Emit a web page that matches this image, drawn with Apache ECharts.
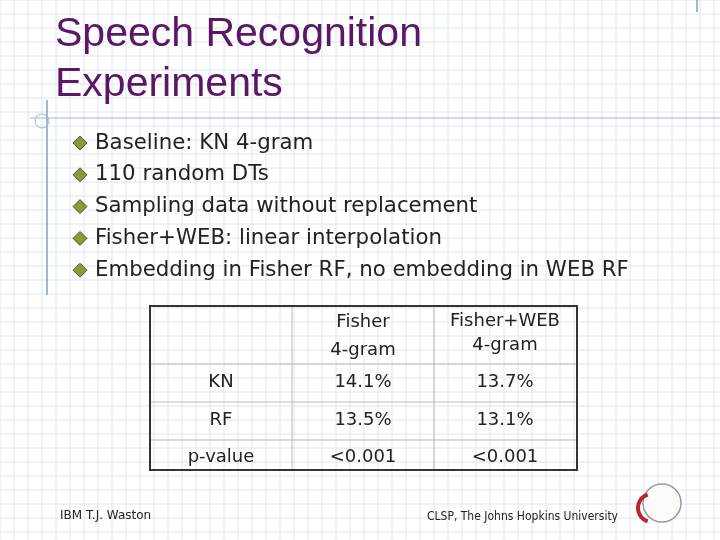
<!DOCTYPE html>
<html><head><meta charset="utf-8">
<script src="https://cdn.jsdelivr.net/npm/echarts@6/dist/echarts.min.js"></script>
<style>html,body{margin:0;padding:0;background:#fff}#main{width:720px;height:540px}</style>
</head><body><div id="main"></div>
<script>
var titleLines = ['Speech Recognition', 'Experiments'];
var bullets = ['Baseline: KN 4-gram', '110 random DTs', 'Sampling data without replacement',
    'Fisher+WEB: linear interpolation', 'Embedding in Fisher RF, no embedding in WEB RF'];
var columns = ['Fisher\n4-gram', 'Fisher+WEB\n4-gram'];
var rowNames = ['KN', 'RF', 'p-value'];
var fisherVals = ['14.1%', '13.5%', '<0.001'];
var webVals = ['13.7%', '13.1%', '<0.001'];
var footerLeft = 'IBM T.J. Waston';
var footerRight = 'CLSP, The Johns Hopkins University';

var els = [];
// graph paper background
for (var x = 0; x <= 720; x += 14) {
    els.push({type: 'line', shape: {x1: x, y1: 0, x2: x, y2: 540}, style: {stroke: '#dbe6f3', lineWidth: 1}, silent: true});
}
for (var y = 0; y <= 540; y += 14) {
    els.push({type: 'line', shape: {x1: 0, y1: y, x2: 720, y2: y}, style: {stroke: '#dbe6f3', lineWidth: 1}, silent: true});
}
// frame lines
els.push({type: 'line', shape: {x1: 47, y1: 100, x2: 47, y2: 295}, style: {stroke: '#9fb6d6', lineWidth: 2}});
els.push({type: 'line', shape: {x1: 30, y1: 118, x2: 720, y2: 118}, style: {stroke: '#9fb6d6', lineWidth: 1}});
els.push({type: 'circle', shape: {cx: 42, cy: 121, r: 7}, style: {fill: 'none', stroke: '#9fb6d6', lineWidth: 1}});
els.push({type: 'line', shape: {x1: 697, y1: 0, x2: 697, y2: 12}, style: {stroke: '#9fb6d6', lineWidth: 2}});

titleLines.forEach(function (t, i) {
    els.push({type: 'text', x: 55, y: 14 + i * 50, style: {text: t, font: '41px "Liberation Sans", sans-serif', fill: '#5b1666'}});
});

bullets.forEach(function (b, i) {
    var yy = 143 + i * 31.8;
    els.push({type: 'polygon', shape: {points: [[80, yy - 7], [87, yy], [80, yy + 7], [73, yy]]},
        style: {fill: '#8a9a3a', stroke: '#4a5a2a', lineWidth: 1}});
    els.push({type: 'text', x: 95, y: yy, style: {text: b, font: '21.3px "DejaVu Sans", sans-serif', fill: '#222', verticalAlign: 'middle'}});
});

// table
var ry = [306, 364, 402, 440, 470];
for (var i = 1; i < 4; i++) {
    els.push({type: 'line', shape: {x1: 150, y1: ry[i], x2: 577, y2: ry[i]}, style: {stroke: '#bbb', lineWidth: 1}});
}
els.push({type: 'line', shape: {x1: 292, y1: 306, x2: 292, y2: 470}, style: {stroke: '#bbb', lineWidth: 1}});
els.push({type: 'line', shape: {x1: 434, y1: 306, x2: 434, y2: 470}, style: {stroke: '#bbb', lineWidth: 1}});
els.push({type: 'rect', shape: {x: 150, y: 306, width: 427, height: 164}, style: {fill: 'none', stroke: '#333', lineWidth: 2}});
var cellFont = '18px "DejaVu Sans", sans-serif';
els.push({type: 'text', x: 363, y: 336, style: {text: columns[0], font: cellFont, fill: '#222', align: 'center', verticalAlign: 'middle', lineHeight: 28}});
els.push({type: 'text', x: 505, y: 333, style: {text: columns[1], font: cellFont, fill: '#222', align: 'center', verticalAlign: 'middle', lineHeight: 24}});
var rowTextY = [382, 420, 457];
rowNames.forEach(function (r, i) {
    els.push({type: 'text', x: 221, y: rowTextY[i], style: {text: r, font: cellFont, fill: '#222', align: 'center', verticalAlign: 'middle'}});
    els.push({type: 'text', x: 363, y: rowTextY[i], style: {text: fisherVals[i], font: cellFont, fill: '#222', align: 'center', verticalAlign: 'middle'}});
    els.push({type: 'text', x: 505, y: rowTextY[i], style: {text: webVals[i], font: cellFont, fill: '#222', align: 'center', verticalAlign: 'middle'}});
});

// footer
els.push({type: 'text', x: 60, y: 516, style: {text: footerLeft, font: '12px "DejaVu Sans", sans-serif', fill: '#222', verticalAlign: 'middle'}});
els.push({type: 'text', x: 427, y: 517, style: {text: footerRight, font: '12px "DejaVu Sans Condensed", sans-serif', fill: '#222', verticalAlign: 'middle'}});
// logo
els.push({type: 'circle', shape: {cx: 662, cy: 503, r: 19}, style: {fill: '#fafafa', stroke: '#999', lineWidth: 1.5}});
els.push({type: 'arc', shape: {cx: 652, cy: 508, r: 14, startAngle: Math.PI * 0.6, endAngle: Math.PI * 1.4}, style: {stroke: '#b5272d', lineWidth: 4, fill: 'none'}});

var myChart = echarts.init(document.getElementById('main'));
myChart.setOption({animation: false, graphic: {elements: els}});
</script></body></html>
